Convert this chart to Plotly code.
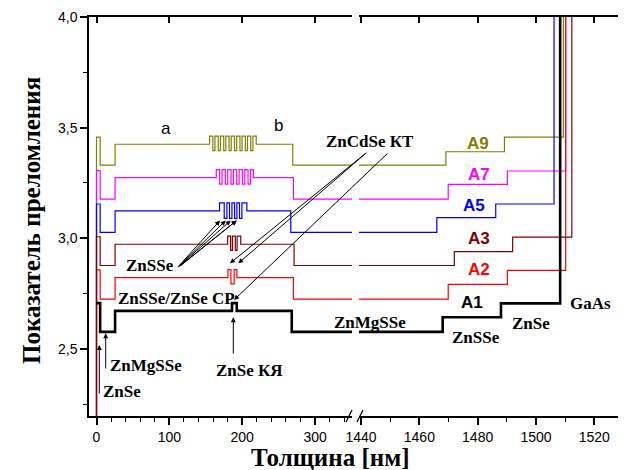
import plotly.graph_objects as go

# ---------------- data (thickness in nm, refractive index) ----------------
x_A1 = [0, 5, 25.5, 186.0, 192.5, 268.0, 1468.0, 1488.0, 1508.3, 1545]
n_A1 = [2.707, 2.577, 2.672, 2.707, 2.672, 2.577, 2.643, 2.706, 4.3, 4.3]

x_A2 = [0, 0, 5, 25.5, 180.4, 184.5, 189.0, 192.7, 270.3, 1469.9, 1490.2, 1510.2, 1545]
n_A2 = [2.0, 2.857, 2.725, 2.822, 2.858, 2.794, 2.858, 2.822, 2.725, 2.792, 2.855, 4.3, 4.3]

x_A3 = [0, 0, 5, 25.5, 180.0, 184.0, 186.5, 190.5, 193.0, 198.0, 271.2, 1472.0, 1492.0, 1512.3, 1545]
n_A3 = [2.0, 3.007, 2.877, 2.973, 3.010, 2.945, 3.010, 2.945, 3.010, 2.973, 2.877, 2.940, 3.005, 4.3, 4.3]

x_A5 = [0, 0, 5, 25.5, 168.9, 175.3, 179.0, 182.6, 185.9, 189.5, 192.7, 196.3, 199.6, 206.4,
        266.7, 1466.0, 1486.2, 1506.2, 1545]
n_A5 = [2.0, 3.155, 3.027, 3.124, 3.160, 3.090, 3.160, 3.090, 3.160, 3.090, 3.160, 3.090, 3.160, 3.124,
        3.027, 3.093, 3.155, 4.3, 4.3]

x_A7 = [0, 0, 5, 25.5, 164.4, 169.0, 172.3, 176.8, 180.1, 184.6, 187.9, 192.4, 195.7, 200.2, 203.5,
        208.0, 211.3, 215.5, 270.3, 1469.9, 1490.2, 1510.2, 1545]
n_A7 = [2.0, 3.306, 3.177, 3.274, 3.310, 3.245, 3.310, 3.245, 3.310, 3.245, 3.310, 3.245, 3.310, 3.245, 3.310,
        3.245, 3.310, 3.274, 3.177, 3.244, 3.304, 4.3, 4.3]

x_A9 = [0, 0, 5, 25.5, 155.2, 159.7, 162.6, 167.1, 170.1, 174.6, 177.5, 182.0, 184.9, 189.4, 192.4,
        196.9, 199.8, 204.3, 207.2, 211.7, 214.7, 219.2, 269.4, 1469.1, 1489.2, 1509.4, 1545]
n_A9 = [2.0, 3.457, 3.331, 3.425, 3.462, 3.396, 3.462, 3.396, 3.462, 3.396, 3.462, 3.396, 3.462, 3.396, 3.462,
        3.396, 3.462, 3.396, 3.462, 3.396, 3.462, 3.425, 3.331, 3.391, 3.457, 4.3, 4.3]

samples = ["A1", "A2", "A3", "A5", "A7", "A9"]
xs = [x_A1, x_A2, x_A3, x_A5, x_A7, x_A9]
ns = [n_A1, n_A2, n_A3, n_A5, n_A7, n_A9]
colors = ["#000000", "#FF0000", "#800000", "#0000FF", "#FF00FF", "#808000"]
widths = [2.6, 1.2, 1.2, 1.2, 1.2, 1.2]

x_ticks_left = [0, 100, 200, 300]
x_ticks_right = [1440, 1460, 1480, 1500, 1520]
y_ticks = [2.5, 3.0, 3.5, 4.0]

# ---------------- figure ----------------
fig = go.Figure()
draw_order = [5, 4, 3, 1, 2, 0]
for i in draw_order:
    for xa in ["x", "x2"]:
        fig.add_trace(go.Scatter(x=xs[i], y=ns[i], mode="lines", line_shape="hv",
                                 line=dict(color=colors[i], width=widths[i]),
                                 xaxis=xa, yaxis="y", showlegend=False, hoverinfo="skip"))

# dummy traces so the mirror axes are drawn
fig.add_trace(go.Scatter(x=[None], y=[None], xaxis="x3", yaxis="y", showlegend=False))
fig.add_trace(go.Scatter(x=[None], y=[None], xaxis="x4", yaxis="y", showlegend=False))
fig.add_trace(go.Scatter(x=[None], y=[None], xaxis="x2", yaxis="y2", showlegend=False))

# page body has an 8 px margin: figure placed at (8, 8)
OFF = 8
WF, HF = 618, 462
PL, PR, PT, PB = 89, 624, 17, 416          # plot area in page pixels
L, R, T, B = PL - OFF, OFF + WF - PR, PT - OFF, OFF + HF - PB
pw = PR - PL
ph = PB - PT
d1 = (352 - PL) / pw
d2 = (359 - PL) / pw
left_range = [-10.3, 350.7]
right_range = [1439.3, 1530.2]
yr = [2.197, 4.0]

tickfont = dict(family="Arial, Liberation Sans, sans-serif", size=14, color="black")
common_x = dict(showline=True, linecolor="black", linewidth=1.5, showgrid=False, zeroline=False,
                ticks="outside", ticklen=7, tickwidth=1.5, tickcolor="black", tickfont=tickfont)

fig.update_layout(
    width=WF, height=HF, margin=dict(l=L, r=R, t=T, b=B),
    paper_bgcolor="white", plot_bgcolor="white", separators=", ",
    xaxis=dict(domain=[0, d1], range=left_range, tickvals=x_ticks_left, anchor="y",
               minor=dict(dtick=20, tick0=0, ticks="outside", ticklen=4, tickwidth=1.2, tickcolor="black"),
               **common_x),
    xaxis2=dict(domain=[d2, 1], range=right_range, tickvals=x_ticks_right, anchor="y",
                minor=dict(dtick=10, tick0=1440, ticks="outside", ticklen=4, tickwidth=1.2, tickcolor="black"),
                **common_x),
    xaxis3=dict(overlaying="x", side="top", anchor="y", range=left_range, tickvals=x_ticks_left,
                showticklabels=False, ticks="inside", ticklen=6, tickwidth=1.5, tickcolor="black",
                showline=True, linecolor="black", linewidth=1.5, showgrid=False, zeroline=False),
    xaxis4=dict(overlaying="x2", side="top", anchor="y", range=right_range, tickvals=x_ticks_right,
                showticklabels=False, ticks="inside", ticklen=6, tickwidth=1.5, tickcolor="black",
                showline=True, linecolor="black", linewidth=1.5, showgrid=False, zeroline=False),
    yaxis=dict(domain=[0, 1], range=yr, tickvals=y_ticks, tickformat=".1f", anchor="x",
               showline=True, linecolor="black", linewidth=1.5, showgrid=False, zeroline=False,
               ticks="outside", ticklen=7, tickwidth=1.5, tickcolor="black", tickfont=tickfont,
               minor=dict(dtick=0.25, tick0=2.25, ticks="outside", ticklen=4, tickwidth=1.2, tickcolor="black")),
    yaxis2=dict(overlaying="y", side="right", anchor="x2", range=yr, dtick=0.25, tick0=2.25,
                showticklabels=False, ticks="inside", ticklen=5, tickwidth=1.5, tickcolor="black",
                showline=True, linecolor="black", linewidth=1.5, showgrid=False, zeroline=False),
)

def px(xp, yp):
    return (xp - PL) / pw, (PB - yp) / ph

serif = "Liberation Serif, Times New Roman, serif"
sans = "Liberation Sans, Arial, sans-serif"
ann = []

def text(t, xp, yp, size=17, color="black", family=serif, bold=True, angle=0):
    x, y = px(xp, yp)
    ann.append(dict(text=("<b>%s</b>" % t) if bold else t, x=x, y=y, xref="paper", yref="paper",
                    showarrow=False, font=dict(family=family, size=size, color=color), textangle=angle,
                    xanchor="center", yanchor="middle"))

def arrow(tip, tail):
    x, y = px(*tip)
    ann.append(dict(text="", x=x, y=y, xref="paper", yref="paper", showarrow=True,
                    ax=tail[0] - tip[0], ay=tail[1] - tip[1], arrowhead=2, arrowsize=1,
                    arrowwidth=1, arrowcolor="black", standoff=0))

text("a", 166, 128, 17, family=sans, bold=False)
text("b", 278, 125, 17, family=sans, bold=False)
text("ZnCdSe КТ", 370, 141)
for s, c, (xp, yp) in zip(["A9", "A7", "A5", "A3", "A2", "A1"],
                          ["#808000", "#FF00FF", "#0000FF", "#800000", "#FF0000", "#000000"],
                          [(478, 143), (479, 174), (474, 205), (479, 238), (479, 269), (472, 302)]):
    text(s, xp, yp, 17, color=c, family=sans)
text("GaAs", 590, 303)
text("ZnSe", 531, 323)
text("ZnSSe", 476, 337)
text("ZnMgSSe", 370, 322)
text("ZnSSe", 150, 265)
text("ZnSSe/ZnSe СР", 176, 298)
text("ZnMgSSe", 146, 365)
text("ZnSe", 122, 391)
text("ZnSe КЯ", 249, 370)

arrow((99.3, 345), (99.3, 395))
arrow((105.7, 333.3), (105.7, 370))
arrow((233.3, 317.3), (233.3, 355))
arrow((230, 263.3), (367.7, 151.7))
arrow((238.3, 263.3), (367.7, 151.7))
arrow((234, 300), (389, 152))
for tx in [220, 225.7, 230.7, 236.7]:
    arrow((tx, 220.5), (177, 268))
arrow((236.7, 220.5), (179, 267))

# axis titles
text("Толщина [нм]", 330, 458, 25)
text("Показатель преломления", 31, 221, 25, angle=-90)
fig.update_layout(annotations=ann)

# axis break marks
shapes = []
for bx in [349, 360]:
    x0, y0 = px(bx - 3, PB + 6)
    x1, y1 = px(bx + 3, PB - 6)
    shapes.append(dict(type="line", xref="paper", yref="paper", x0=x0, y0=y0, x1=x1, y1=y1,
                       line=dict(color="black", width=1.3)))
fig.update_layout(shapes=shapes)

fig.write_html("out.html")
